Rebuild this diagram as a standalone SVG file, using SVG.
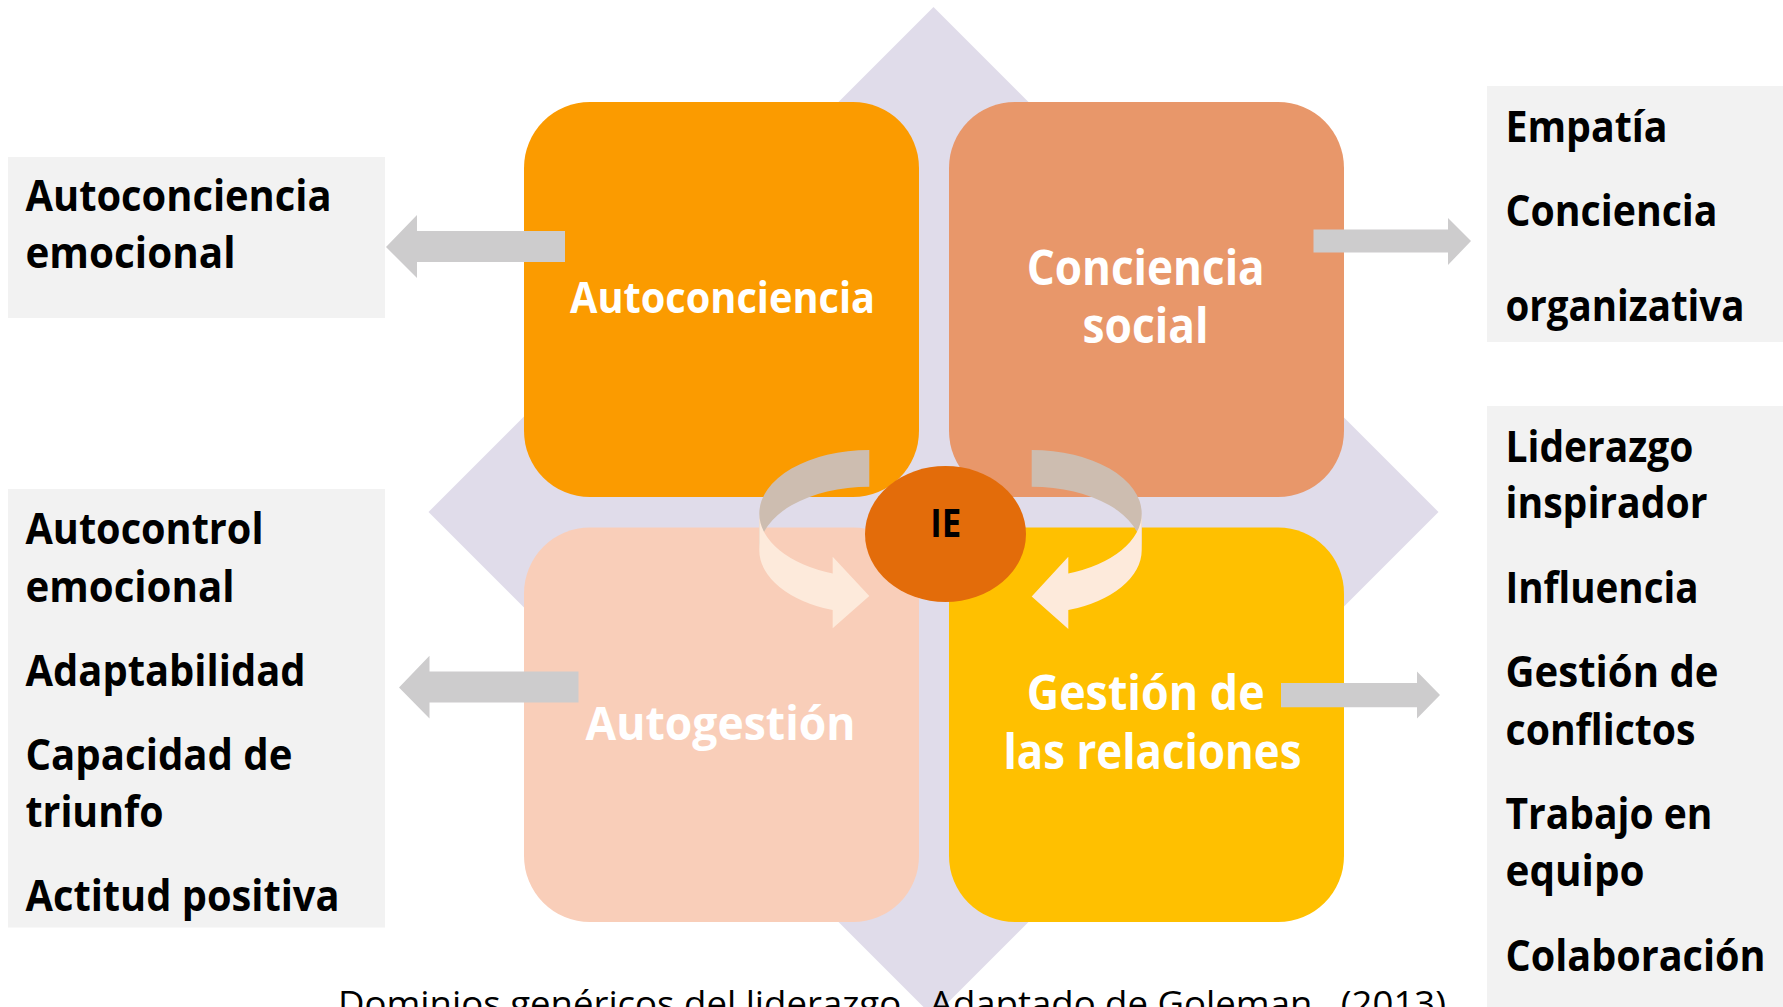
<svg xmlns="http://www.w3.org/2000/svg" width="1783" height="1007" viewBox="0 0 1783 1007">
<style>
  .box { fill: #F2F2F2; }
  .side { font-family: "Open Sans", "Liberation Sans", sans-serif; font-weight: bold; font-size: 43px; fill: #000000; }
  .center { font-family: "Open Sans", "Liberation Sans", sans-serif; font-weight: bold; fill: #FFFFFF; text-anchor: middle; }
  .garrow { fill: #CDCCCD; }
  .ringback { fill: #CDBDB0; }
  .ringfront { fill: #FDEADB; }
  .caption { font-family: "Open Sans", "Liberation Sans", sans-serif; font-size: 34px; fill: #000000; }
</style>
<rect x="0" y="0" width="1783" height="1007" fill="#FFFFFF"/>

<g id="diamond">
  <polygon points="933.5,7 1438.5,512 933.5,1017 428.5,512" fill="#E0DCEA"/>
</g>

<g id="autoconciencia">
  <rect x="524" y="102" width="395" height="395" rx="66" ry="66" fill="#FB9B00"/>
  <text class="center" x="722.5" y="313.3" font-size="43" textLength="305" lengthAdjust="spacingAndGlyphs">Autoconciencia</text>
</g>
<g id="conciencia-social">
  <rect x="949" y="102" width="395" height="395" rx="66" ry="66" fill="#E8976A"/>
  <text class="center" x="1145.7" y="285" font-size="48" textLength="238" lengthAdjust="spacingAndGlyphs">Conciencia</text>
  <text class="center" x="1145.5" y="343.3" font-size="48" textLength="126" lengthAdjust="spacingAndGlyphs">social</text>
</g>
<g id="autogestion">
  <rect x="524" y="527.5" width="395" height="394.5" rx="66" ry="66" fill="#F9CEB9"/>
  <text class="center" x="720.5" y="739.5" font-size="46" textLength="270" lengthAdjust="spacingAndGlyphs">Autogestión</text>
</g>
<g id="gestion-relaciones">
  <rect x="949" y="527.5" width="395" height="394.5" rx="66" ry="66" fill="#FFC000"/>
  <text class="center" x="1145.7" y="710.2" font-size="48" textLength="238" lengthAdjust="spacingAndGlyphs">Gestión de</text>
  <text class="center" x="1152.5" y="769" font-size="48" textLength="298" lengthAdjust="spacingAndGlyphs">las relaciones</text>
</g>

<g id="connectors">
  <polygon class="garrow" points="386,247 417,215 417,231 565,231 565,262 417,262 417,278"/>
  <polygon class="garrow" points="1471,241 1448,218 1448,229.5 1313.5,229.5 1313.5,252.5 1448,252.5 1448,265"/>
  <polygon class="garrow" points="399,687.4 429.5,655.8 429.5,671.6 578.5,671.6 578.5,702.5 429.5,702.5 429.5,718.6"/>
  <polygon class="garrow" points="1440,695.1 1417,671.6 1417,683 1281,683 1281,707.2 1417,707.2 1417,718.6"/>
  <path class="ringback" d="M869.3,450 A110,63.5 0 0 0 759.3,513.5 L759.3,550.2 A110,63.5 0 0 1 869.3,486.7 Z"/>
  <path class="ringfront" d="M759.3,513.5 A110,63.5 0 0 0 832.7,573.4 L832.7,556.7 L869.3,596 L832.7,628.3 L832.7,610.1 A110,63.5 0 0 1 759.3,550.2 Z"/>
  <path class="ringback" d="M1031.7,450 A110,63.5 0 0 1 1141.7,513.5 L1141.7,550.2 A110,63.5 0 0 0 1031.7,486.7 Z"/>
  <path class="ringfront" d="M1141.7,513.5 A110,63.5 0 0 1 1068.3,573.4 L1068.3,556.7 L1031.7,596.5 L1068.3,629 L1068.3,610.1 A110,63.5 0 0 0 1141.7,550.2 Z"/>
</g>

<g id="ie">
  <ellipse cx="945.5" cy="534" rx="80.5" ry="68" fill="#E36C0A"/>
  <text x="945.8" y="536.7" font-family="Open Sans, Liberation Sans, sans-serif" font-weight="bold" font-size="40" text-anchor="middle" fill="#000000" textLength="31" lengthAdjust="spacingAndGlyphs">IE</text>
</g>

<g id="autoconciencia-items">
  <rect class="box" x="8" y="157" width="377" height="161"/>
  <text class="side" x="25.5" y="211" textLength="306" lengthAdjust="spacingAndGlyphs">Autoconciencia</text>
  <text class="side" x="25.5" y="268" textLength="210" lengthAdjust="spacingAndGlyphs">emocional</text>
</g>
<g id="autogestion-items">
  <rect class="box" x="8" y="489" width="377" height="438.5"/>
  <text class="side" x="25.5" y="543.9" textLength="238" lengthAdjust="spacingAndGlyphs">Autocontrol</text>
  <text class="side" x="25.5" y="601.7" textLength="209" lengthAdjust="spacingAndGlyphs">emocional</text>
  <text class="side" x="25.5" y="685.7" textLength="280" lengthAdjust="spacingAndGlyphs">Adaptabilidad</text>
  <text class="side" x="25.5" y="769.7" textLength="267" lengthAdjust="spacingAndGlyphs">Capacidad de</text>
  <text class="side" x="25.5" y="826.9" textLength="138" lengthAdjust="spacingAndGlyphs">triunfo</text>
  <text class="side" x="25.5" y="911.2" textLength="314" lengthAdjust="spacingAndGlyphs">Actitud positiva</text>
</g>
<g id="conciencia-social-items">
  <rect class="box" x="1487" y="86" width="296" height="256"/>
  <text class="side" x="1505.5" y="141.7" textLength="162" lengthAdjust="spacingAndGlyphs">Empatía</text>
  <text class="side" x="1505.5" y="225.7" textLength="212" lengthAdjust="spacingAndGlyphs">Conciencia</text>
  <text class="side" x="1505.5" y="320.7" textLength="239" lengthAdjust="spacingAndGlyphs">organizativa</text>
</g>
<g id="gestion-relaciones-items">
  <rect class="box" x="1487" y="406" width="296" height="601"/>
  <text class="side" x="1505.5" y="461.5" textLength="188" lengthAdjust="spacingAndGlyphs">Liderazgo</text>
  <text class="side" x="1505.5" y="517.6" textLength="202" lengthAdjust="spacingAndGlyphs">inspirador</text>
  <text class="side" x="1505.5" y="602.7" textLength="193" lengthAdjust="spacingAndGlyphs">Influencia</text>
  <text class="side" x="1505.5" y="686.7" textLength="213" lengthAdjust="spacingAndGlyphs">Gestión de</text>
  <text class="side" x="1505.5" y="744.5" textLength="190" lengthAdjust="spacingAndGlyphs">conflictos</text>
  <text class="side" x="1505.5" y="828.5" textLength="207" lengthAdjust="spacingAndGlyphs">Trabajo en</text>
  <text class="side" x="1505.5" y="886" textLength="139" lengthAdjust="spacingAndGlyphs">equipo</text>
  <text class="side" x="1505.5" y="970.7" textLength="260" lengthAdjust="spacingAndGlyphs">Colaboración</text>
</g>

<g id="caption">
  <text class="caption" x="338" y="1016" textLength="1108" lengthAdjust="spacingAndGlyphs" xml:space="preserve">Dominios genéricos del liderazgo.  Adaptado de Goleman,  (2013)</text>
</g>
</svg>
